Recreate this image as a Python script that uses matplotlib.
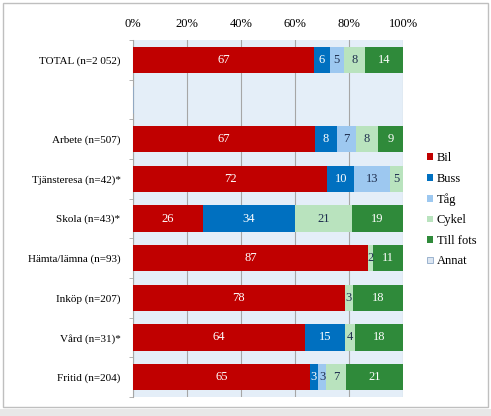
import numpy as np
import matplotlib.pyplot as plt

plt.rcParams['font.family'] = ['Liberation Serif', 'DejaVu Serif']

# rows top to bottom; an empty row separates TOTAL from the groups
labels = ['TOTAL (n=2 052)', '', 'Arbete (n=507)', 'Tjänsteresa (n=42)*',
          'Skola (n=43)*', 'Hämta/lämna (n=93)', 'Inköp (n=207)',
          'Vård (n=31)*', 'Fritid (n=204)']
modes = ['Bil', 'Buss', 'Tåg', 'Cykel', 'Till fots', 'Annat']

# shares in % (labels are the rounded values)
bil = [67.0, 0, 67.4, 72.0, 26.0, 87.0, 78.4, 63.8, 65.4]
buss = [6.0, 0, 8.2, 10.0, 34.0, 0, 0, 14.8, 3.2]
tag = [5.0, 0, 7.0, 13.0, 0, 0, 0, 0, 3.0]
cykel = [8.0, 0, 8.0, 5.0, 21.0, 2.0, 3.2, 3.8, 7.2]
till_fots = [14.0, 0, 9.4, 0, 19.0, 11.0, 18.4, 17.6, 21.2]
annat = [0, 0, 0, 0, 0, 0, 0, 0, 0]

series = [bil, buss, tag, cykel, till_fots, annat]
colors = ['#C00000', '#0070C0', '#9DC8F0', '#B9E3BE', '#2F8A3A', '#DCE6F2']
edges = ['none', 'none', 'none', 'none', 'none', '#8EA9C8']
txt_col = ['white', 'white', '#1F2F4F', '#1F2F4F', 'white', '#1F2F4F']

fig = plt.figure(figsize=(4.91, 4.16), dpi=100)
ax = fig.add_axes([133 / 491, 1 - 397 / 416, 270 / 491, 357 / 416])
ax.set_facecolor('#E4EEF8')

y = np.arange(len(labels))
left = np.zeros(len(labels))
for vals, c, ec, tc, name in zip(series, colors, edges, txt_col, modes):
    vals = np.array(vals, dtype=float)
    ax.barh(y, vals, left=left, height=0.66, color=c, edgecolor=ec,
            linewidth=0.6, label=name, zorder=3)
    for yi, (l, v) in enumerate(zip(left, vals)):
        if v >= 1.5:
            ax.text(l + v / 2, yi, f'{round(v)}', ha='center', va='center',
                    color=tc, fontsize=9, zorder=4)
    left += vals

ax.set_xlim(0, 100)
ax.set_ylim(len(labels) - 0.5, -0.5)
ax.set_xticks(np.arange(0, 101, 20))
ax.set_xticklabels([f'{v}%' for v in range(0, 101, 20)], fontsize=9)
ax.xaxis.tick_top()
ax.tick_params(axis='x', length=0, pad=7)
ax.grid(axis='x', color='#A6A6A6', linewidth=0.8, zorder=1)

ax.set_yticks(y)
ax.set_yticklabels(labels, fontsize=8)
ax.tick_params(axis='y', length=0, pad=9)
ax.set_yticks(np.arange(-0.5, len(labels)), minor=True)
ax.tick_params(axis='y', which='minor', length=3, color='#A6A6A6')

for s in ['top', 'right', 'bottom']:
    ax.spines[s].set_visible(False)
ax.spines['left'].set_color('#A6A6A6')

leg = fig.legend(loc='upper left', bbox_to_anchor=(416 / 491, 1 - 141 / 416),
                 frameon=False, fontsize=9, handlelength=0.45,
                 handleheight=0.45, handletextpad=0.3, labelspacing=0.68)

# outer frame
fig.patches.append(plt.Rectangle((3 / 491, 9 / 416), 485 / 491, 404 / 416,
                                 transform=fig.transFigure, fill=False,
                                 edgecolor='#BFBFBF', linewidth=1))
fig.patches.append(plt.Rectangle((0, 0), 1, 7 / 416, transform=fig.transFigure,
                                 color='#E8E8E8', linewidth=0))

fig.savefig('out.png', dpi=100)
